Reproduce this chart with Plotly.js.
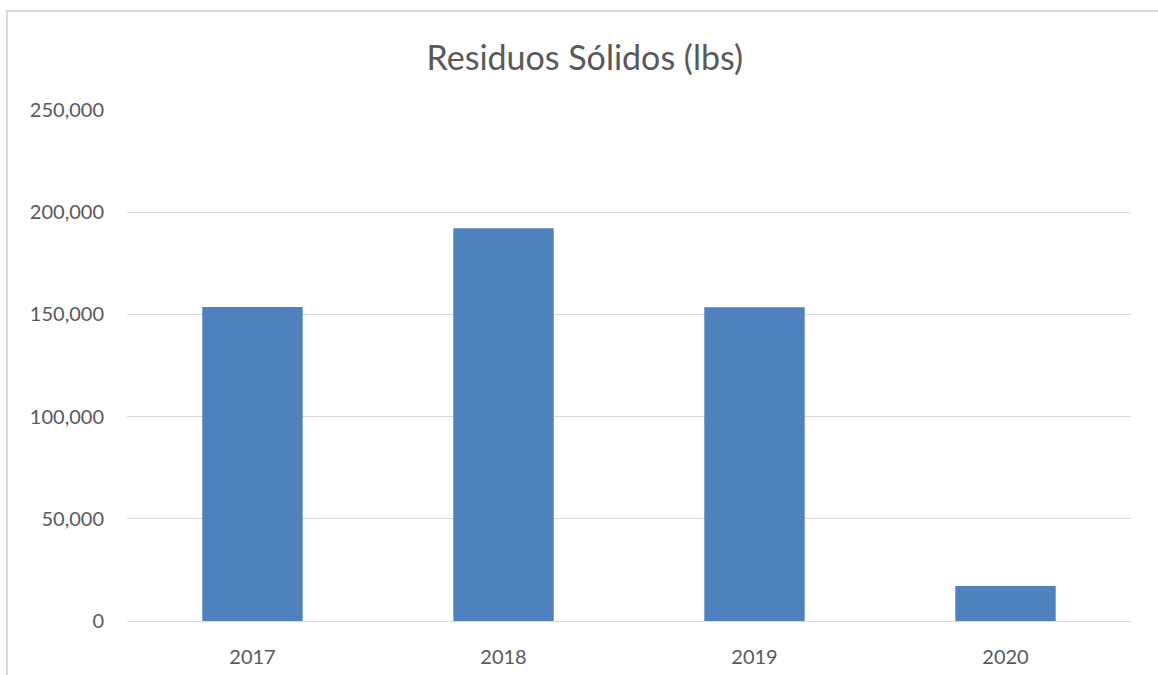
<!DOCTYPE html>
<html>
<head>
<meta charset="utf-8">
<script src="https://cdn.plot.ly/plotly-3.0.1.min.js"></script>
<style>body{margin:0;background:#fff;} #chart{width:1158px;height:675px;}</style>
</head>
<body>
<div id="chart"></div>
<script>
const years = ['2017', '2018', '2019', '2020'];
const residuos = [153600, 192100, 153500, 17100];
const yTicks = [0, 50000, 100000, 150000, 200000, 250000];
const yTickLabels = ['0', '50,000', '100,000', '150,000', '200,000', '250,000'];

const trace = {
  type: 'bar',
  x: years,
  y: residuos,
  marker: {color: '#4f81bd'},
  hoverinfo: 'x+y'
};

const layout = {
  width: 1158, height: 675,
  margin: {l: 127, r: 27, t: 110, b: 54},
  paper_bgcolor: '#ffffff', plot_bgcolor: '#ffffff',
  font: {family: 'Lato, "Open Sans", sans-serif', color: '#595959', size: 20},
  title: {text: 'Residuos Sólidos (lbs)', font: {size: 34, color: '#595959'},
          x: 0.505, xref: 'container', xanchor: 'center', y: 1 - 58/675, yref: 'container', yanchor: 'middle'},
  bargap: 0.6,
  showlegend: false,
  xaxis: {type: 'category', showgrid: false, showline: true, linecolor: '#d9d9d9', linewidth: 1,
          ticks: '', ticklabelstandoff: 18, tickfont: {size: 20, color: '#595959'}},
  yaxis: {range: [0, 250000], tickvals: yTicks, ticktext: yTickLabels, showgrid: true,
          gridcolor: '#d9d9d9', gridwidth: 1, zeroline: false, showline: false,
          ticks: '', ticklabelstandoff: 22, tickfont: {size: 20, color: '#595959'}},
  shapes: [{type: 'rect', xref: 'paper', yref: 'paper',
            x0: (7 - 127) / 1004, x1: 1.2, y0: -0.3, y1: (621 - 11) / 511,
            line: {color: '#d9d9d9', width: 2}, fillcolor: 'rgba(0,0,0,0)', layer: 'below'}]
};

Plotly.newPlot('chart', [trace], layout, {displayModeBar: false, staticPlot: true});
</script>
</body>
</html>
